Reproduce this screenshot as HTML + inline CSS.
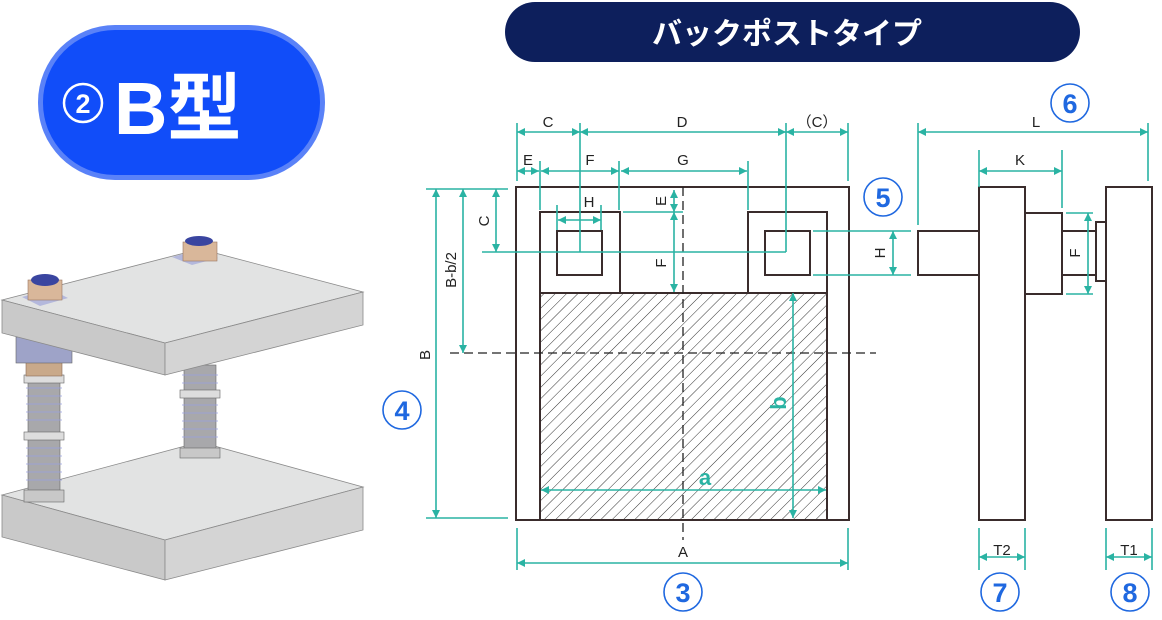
<!DOCTYPE html>
<html><head><meta charset="utf-8"><style>
html,body{margin:0;padding:0;background:#fff;}
svg{display:block;}
text{font-family:"Liberation Sans","Noto Sans CJK JP",sans-serif;}
</style></head><body>
<svg width="1162" height="620" viewBox="0 0 1162 620" xmlns="http://www.w3.org/2000/svg">
<defs>
<marker id="ar" viewBox="0 0 10 10" refX="10" refY="5" markerWidth="8" markerHeight="8" orient="auto-start-reverse" markerUnits="userSpaceOnUse"><path d="M0,0 L10,5 L0,10 z" fill="#2ab3a3"/></marker>
<pattern id="hatch" patternUnits="userSpaceOnUse" width="8" height="8" patternTransform="rotate(45)"><line x1="0" y1="0" x2="0" y2="8" stroke="#333" stroke-width="1"/></pattern>
<clipPath id="hc"><rect x="540" y="293" width="287" height="227"/></clipPath>
</defs>

<!-- Badge -->
<rect x="38" y="25" width="287" height="155" rx="77" fill="#5a82f8"/>
<rect x="43" y="30" width="277" height="145" rx="72" fill="#114df9"/>
<circle cx="83" cy="103" r="19" fill="none" stroke="#fff" stroke-width="2.5"/>
<text x="83" y="113" font-size="27" font-weight="bold" fill="#fff" text-anchor="middle">2</text>
<text x="114" y="134" font-size="74" font-weight="bold" fill="#fff">B型</text>

<rect x="505" y="2" width="575" height="60" rx="30" fill="#0d1f5c"/>
<text x="787" y="44" font-size="30" font-weight="bold" fill="#fff" text-anchor="middle">バックポストタイプ</text>

<!-- 3D illustration -->
<g stroke="#8a8a8a" stroke-width="0.8">
<polygon points="2,495 200,442 363,487 165,540" fill="#e2e3e3"/>
<polygon points="2,495 165,540 165,580 2,537" fill="#c9c9c9"/>
<polygon points="165,540 363,487 363,530 165,580" fill="#d4d4d4"/>
</g>
<g>
<rect x="184" y="365" width="32" height="90" fill="#a8a8ab" stroke="#666" stroke-width="0.6"/>
<g stroke="#9aa0e0" stroke-width="0.8">
<line x1="182" y1="375" x2="218" y2="375"/><line x1="182" y1="383" x2="218" y2="383"/><line x1="182" y1="405" x2="218" y2="405"/><line x1="182" y1="413" x2="218" y2="413"/><line x1="182" y1="421" x2="218" y2="421"/><line x1="182" y1="429" x2="218" y2="429"/><line x1="182" y1="437" x2="218" y2="437"/>
</g>
<rect x="180" y="448" width="40" height="10" fill="#c8c8c8" stroke="#666" stroke-width="0.6"/>
<rect x="180" y="390" width="40" height="8" fill="#ddd" stroke="#666" stroke-width="0.6"/>
<rect x="28" y="375" width="32" height="125" fill="#a8a8ab" stroke="#666" stroke-width="0.6"/>
<g stroke="#9aa0e0" stroke-width="0.8">
<line x1="26" y1="388" x2="62" y2="388"/><line x1="26" y1="396" x2="62" y2="396"/><line x1="26" y1="404" x2="62" y2="404"/><line x1="26" y1="412" x2="62" y2="412"/><line x1="26" y1="420" x2="62" y2="420"/><line x1="26" y1="448" x2="62" y2="448"/><line x1="26" y1="456" x2="62" y2="456"/><line x1="26" y1="464" x2="62" y2="464"/><line x1="26" y1="472" x2="62" y2="472"/><line x1="26" y1="480" x2="62" y2="480"/>
</g>
<rect x="24" y="490" width="40" height="12" fill="#c8c8c8" stroke="#666" stroke-width="0.6"/>
<rect x="24" y="432" width="40" height="8" fill="#ddd" stroke="#666" stroke-width="0.6"/>
<rect x="24" y="375" width="40" height="8" fill="#ddd" stroke="#666" stroke-width="0.6"/>
<rect x="26" y="360" width="36" height="16" fill="#c9a98a" stroke="#8a6a55" stroke-width="0.6"/>
<rect x="16" y="337" width="56" height="26" fill="#9ea3c8" stroke="#666" stroke-width="0.6"/>
</g>
<g stroke="#8a8a8a" stroke-width="0.8">
<polygon points="2,300 200,249 363,292 165,343" fill="#e2e3e3"/>
<polygon points="2,300 165,343 165,375 2,333" fill="#c9c9c9"/>
<polygon points="165,343 363,292 363,325 165,375" fill="#d4d4d4"/>
</g>
<polygon points="22,297 50,289 68,298 40,306" fill="#b4b8dc"/>
<rect x="28" y="280" width="34" height="20" fill="#d9b79a" stroke="#9a7560" stroke-width="0.6"/>
<ellipse cx="45" cy="280" rx="14" ry="6" fill="#3a45a0"/>
<polygon points="172,257 198,250 218,258 192,265" fill="#b4b8dc"/>
<rect x="183" y="242" width="34" height="19" fill="#d9b79a" stroke="#9a7560" stroke-width="0.6"/>
<ellipse cx="199" cy="241" rx="14" ry="5" fill="#3a45a0"/>

<!-- Main drawing -->
<rect x="540" y="293" width="287" height="227" fill="url(#hatch)" clip-path="url(#hc)"/>
<g fill="none" stroke="#3a2c2c" stroke-width="2">
<rect x="516" y="187" width="333" height="333"/>
<rect x="540" y="212" width="80" height="81"/>
<rect x="557" y="231" width="45" height="44"/>
<rect x="748" y="212" width="79" height="81"/>
<rect x="765" y="231" width="45" height="44"/>
<rect x="540" y="293" width="287" height="227"/>
<rect x="918" y="231" width="61" height="44"/>
<rect x="979" y="187" width="46" height="333"/>
<rect x="1025" y="213" width="37" height="81"/>
<rect x="1062" y="231" width="34" height="44"/>
<rect x="1096" y="222" width="10" height="59"/>
<rect x="1106" y="187" width="46" height="333"/>
</g>
<g stroke="#222" stroke-width="1.3" stroke-dasharray="9,5">
<line x1="683" y1="187" x2="683" y2="540"/>
<line x1="450" y1="353" x2="876" y2="353"/>
</g>

<g stroke="#2ab3a3" stroke-width="1.6" fill="none">
<line x1="517" y1="123" x2="517" y2="181"/>
<line x1="580" y1="123" x2="580" y2="252"/>
<line x1="786" y1="123" x2="786" y2="252"/>
<line x1="848" y1="123" x2="848" y2="181"/>
<line x1="482" y1="252" x2="786" y2="252"/>
<line x1="540" y1="161" x2="540" y2="210"/>
<line x1="619" y1="161" x2="619" y2="210"/>
<line x1="748" y1="161" x2="748" y2="210"/>
<line x1="557" y1="205" x2="557" y2="230"/>
<line x1="601" y1="205" x2="601" y2="230"/>
<line x1="623" y1="212" x2="683" y2="212"/>
<line x1="426" y1="189" x2="508" y2="189"/>
<line x1="426" y1="518" x2="508" y2="518"/>
<line x1="517" y1="528" x2="517" y2="570"/>
<line x1="848" y1="528" x2="848" y2="570"/>
<line x1="813" y1="231" x2="911" y2="231"/>
<line x1="813" y1="275" x2="911" y2="275"/>
<line x1="918" y1="123" x2="918" y2="225"/>
<line x1="1148" y1="123" x2="1148" y2="181"/>
<line x1="979" y1="150" x2="979" y2="187"/>
<line x1="1062" y1="150" x2="1062" y2="208"/>
<line x1="1066" y1="213" x2="1093" y2="213"/>
<line x1="1066" y1="294" x2="1093" y2="294"/>
<line x1="979" y1="528" x2="979" y2="570"/>
<line x1="1025" y1="528" x2="1025" y2="570"/>
<line x1="1106" y1="528" x2="1106" y2="570"/>
<line x1="1152" y1="528" x2="1152" y2="570"/>
</g>
<g stroke="#2ab3a3" stroke-width="1.6" fill="none" marker-start="url(#ar)" marker-end="url(#ar)">
<line x1="517" y1="132" x2="580" y2="132"/>
<line x1="580" y1="132" x2="786" y2="132"/>
<line x1="786" y1="132" x2="848" y2="132"/>
<line x1="517" y1="171" x2="539" y2="171"/>
<line x1="541" y1="171" x2="619" y2="171"/>
<line x1="621" y1="171" x2="747" y2="171"/>
<line x1="558" y1="220" x2="601" y2="220"/>
<line x1="674" y1="190" x2="674" y2="212"/>
<line x1="674" y1="212" x2="674" y2="292"/>
<line x1="496" y1="189" x2="496" y2="252"/>
<line x1="463" y1="189" x2="463" y2="353"/>
<line x1="436" y1="189" x2="436" y2="518"/>
<line x1="793" y1="293" x2="793" y2="518"/>
<line x1="541" y1="490" x2="826" y2="490"/>
<line x1="517" y1="563" x2="848" y2="563"/>
<line x1="893" y1="231" x2="893" y2="275"/>
<line x1="918" y1="132" x2="1148" y2="132"/>
<line x1="979" y1="171" x2="1062" y2="171"/>
<line x1="1088" y1="213" x2="1088" y2="294"/>
<line x1="979" y1="557" x2="1025" y2="557"/>
<line x1="1106" y1="557" x2="1152" y2="557"/>
</g>

<g font-size="15" fill="#222" text-anchor="middle">
<text x="548" y="127">C</text>
<text x="682" y="127">D</text>
<text x="817" y="127">（C）</text>
<text x="528" y="165">E</text>
<text x="590" y="165">F</text>
<text x="683" y="165">G</text>
<text x="589" y="207">H</text>
<text x="683" y="557">A</text>
<text x="1036" y="127">L</text>
<text x="1020" y="165">K</text>
<text x="1002" y="555">T2</text>
<text x="1129" y="555">T1</text>
<text transform="translate(666,201) rotate(-90)">E</text>
<text transform="translate(666,263) rotate(-90)">F</text>
<text transform="translate(489,221) rotate(-90)">C</text>
<text transform="translate(456,270) rotate(-90)">B-b/2</text>
<text transform="translate(430,355) rotate(-90)">B</text>
<text transform="translate(885,253) rotate(-90)">H</text>
<text transform="translate(1080,253) rotate(-90)">F</text>
</g>
<text x="705" y="485" font-size="22" font-weight="bold" fill="#2ab3a3" text-anchor="middle">a</text>
<text transform="translate(786,403) rotate(-90)" font-size="22" font-weight="bold" fill="#2ab3a3" text-anchor="middle">b</text>

<g fill="none" stroke="#1f68e0" stroke-width="1.6">
<circle cx="683" cy="592" r="19"/>
<circle cx="402" cy="410" r="19"/>
<circle cx="883" cy="197" r="19"/>
<circle cx="1070" cy="103" r="19"/>
<circle cx="1000" cy="592" r="19"/>
<circle cx="1130" cy="592" r="19"/>
</g>
<g font-size="27" font-weight="bold" fill="#1f68e0" text-anchor="middle">
<text x="683" y="602">3</text>
<text x="402" y="420">4</text>
<text x="883" y="207">5</text>
<text x="1070" y="113">6</text>
<text x="1000" y="602">7</text>
<text x="1130" y="602">8</text>
</g>
</svg>
</body></html>
